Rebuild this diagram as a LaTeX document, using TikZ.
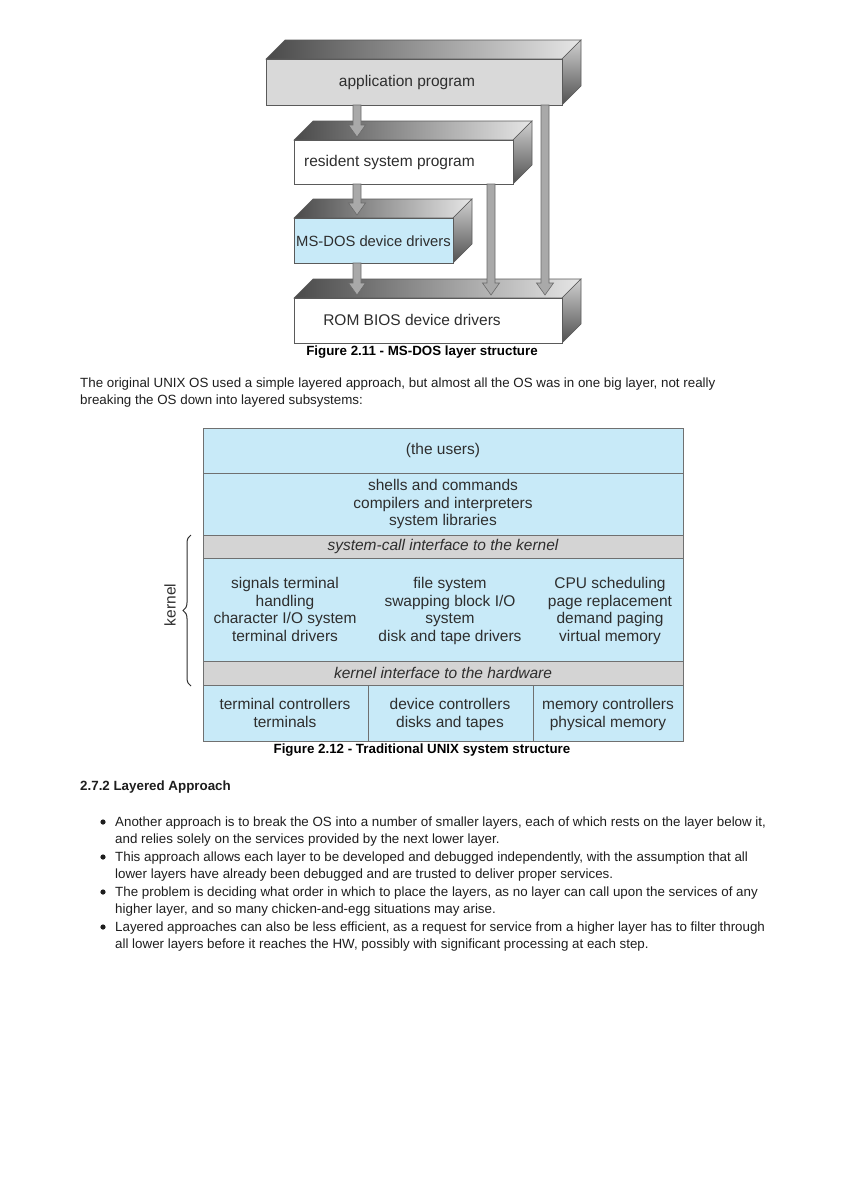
\documentclass[tikz,border=0pt]{standalone}
\usepackage{fontspec}
\setmainfont{Liberation Sans}
\usetikzlibrary{decorations.pathreplacing,calc}
\definecolor{topdark}{HTML}{4A4A4A}
\definecolor{toplight}{HTML}{E6E6E6}
\definecolor{sidelight}{HTML}{D0D0D0}
\definecolor{sidedark}{HTML}{505050}
\definecolor{edgec}{HTML}{5A5A5A}
\definecolor{appgray}{HTML}{D9D9D9}
\definecolor{ublue}{HTML}{C8EAF8}
\definecolor{ugray}{HTML}{D4D4D4}
\definecolor{linec}{HTML}{707070}
\definecolor{figtxt}{HTML}{2E2E2E}
\definecolor{arrfill}{HTML}{A9A9A9}
\definecolor{arredge}{HTML}{6A6A6A}
\definecolor{bodytxt}{HTML}{1E1E1E}
\newcommand\threedbox[6]{%
  \shade[left color=topdark, right color=toplight, draw=edgec, line width=0.6pt]
    (#2,#3) -- (#2+19,#3-19) -- (#4+19,#3-19) -- (#4,#3) -- cycle;
  \shade[top color=sidelight, bottom color=sidedark, draw=edgec, line width=0.6pt]
    (#4,#3) -- (#4+19,#3-19) -- (#4+19,#5-19) -- (#4,#5) -- cycle;
  \node[draw=edgec, line width=0.6pt, fill=#6, minimum width={#4-#2}, minimum height={#5-#3},
        anchor=north west, inner sep=0pt, outer sep=0pt] (#1) at (#2,#3) {};
}
\newcommand\fatarrow[2]{%
  \path let \p1=(#1), \p2=(#2) in
    [fill=arrfill, draw=arredge, line width=0.6pt]
    (\x1-4pt,\y1) -- (\x1-4pt,\y2+12pt) -- (\x1-8.5pt,\y2+12pt) -- (\x1,\y2)
    -- (\x1+8.5pt,\y2+12pt) -- (\x1+4pt,\y2+12pt) -- (\x1+4pt,\y1) -- cycle;
}
\begin{document}
\begin{tikzpicture}[x=1pt,y=-1pt,
  figtext/.style={text=figtxt, font=\fontsize{15.5}{17.4}\selectfont, inner sep=0pt, align=center},
  figcap/.style={text=black, font=\fontsize{13.35}{15}\selectfont\bfseries, inner sep=0pt},
  body/.style={text=bodytxt, font=\fontsize{13.35}{15}\selectfont, inner sep=0pt, anchor=base west},
  cell/.style={draw=linec, line width=0.7pt, fill=ublue, inner sep=0pt, outer sep=0pt, anchor=north west,
               text=figtxt, font=\fontsize{15.5}{17.4}\selectfont, align=center},
  graycell/.style={cell, fill=ugray, font=\fontsize{15.5}{17.4}\selectfont\itshape}
]
\useasboundingbox (0,0) rectangle (846,1197);
\fill[white] (0,0) rectangle (846,1197);

% ---------- Figure 2.11 ----------
\threedbox{rom}{294}{298}{562}{343}{white}
\threedbox{msdos}{294}{218}{453}{263}{ublue}
\threedbox{res}{294}{140}{513}{184}{white}
\threedbox{app}{266}{59}{562}{105}{appgray}

\node[figtext, anchor=center] (tapp) at (407,82) {application program};
\node[figtext, anchor=west] (tres) at (304,162) {resident system program};
\node[figtext, anchor=west, font=\fontsize{14.8}{17}\selectfont] (tms) at (296,241) {MS-DOS device drivers};
\node[figtext, anchor=center] (trom) at (412,320) {ROM BIOS device drivers};

\fatarrow{[xshift=91pt]app.south west}{[xshift=63pt,yshift=3pt]res.north west}
\fatarrow{[xshift=63pt]res.south west}{[xshift=63pt,yshift=3pt]msdos.north west}
\fatarrow{[xshift=63pt]msdos.south west}{[xshift=63pt,yshift=3pt]rom.north west}
\fatarrow{[xshift=197pt]res.south west}{[xshift=197pt,yshift=3pt]rom.north west}
\fatarrow{[xshift=279pt]app.south west}{[xshift=251pt,yshift=3pt]rom.north west}

\node[figcap] (cap1) at (422,352) {Figure 2.11 - MS-DOS layer structure};

% ---------- body text 1 ----------
\node[body] (p1) at (80,387) {The original UNIX OS used a simple layered approach, but almost all the OS was in one big layer, not really};
\node[body] (p2) at (80,404.5) {breaking the OS down into layered subsystems:};

% ---------- Figure 2.12 ----------
\node[cell, minimum width=480pt, minimum height=45pt] (users) at (203,428) {(the users)};
\node[cell, minimum width=480pt, minimum height=62pt] (shells) at (203,473)
  {shells and commands\\compilers and interpreters\\system libraries};
\node[graycell, minimum width=480pt, minimum height=23pt] (sysc) at (203,535) {system-call interface to the kernel};
\node[cell, minimum width=480pt, minimum height=103pt] (kern) at (203,558) {};
\node[graycell, minimum width=480pt, minimum height=24pt] (kif) at (203,661) {kernel interface to the hardware};
\node[cell, minimum width=165pt, minimum height=56pt] (hw1) at (203,685) {};
\node[cell, minimum width=165pt, minimum height=56pt] (hw2) at (368,685) {};
\node[cell, minimum width=150pt, minimum height=56pt] (hw3) at (533,685) {};
\node[figtext, anchor=base] (hwt1) at (285,727) {terminal controllers\\terminals};
\node[figtext, anchor=base] (hwt2) at (450,727) {device controllers\\disks and tapes};
\node[figtext, anchor=base] (hwt3) at (608,727) {memory controllers\\physical memory};

\node[figtext, anchor=base] (k1) at (285,641) {signals terminal\\handling\\character I/O system\\terminal drivers};
\node[figtext, anchor=base] (k2) at (450,641) {file system\\swapping block I/O\\system\\disk and tape drivers};
\node[figtext, anchor=base] (k3) at (610,641) {CPU scheduling\\page replacement\\demand paging\\virtual memory};

\coordinate (brb) at (191,686);
\coordinate (brt) at (191,535);
\draw[draw=figtxt, line width=1pt, decorate, decoration={brace, amplitude=8pt}] (brb) -- (brt);
\node[figtext, rotate=90] (klabel) at (170,605) {kernel};

\node[figcap] (cap2) at (422,750) {Figure 2.12 - Traditional UNIX system structure};

% ---------- body text 2 ----------
\node[body, font=\fontsize{13.35}{15}\selectfont\bfseries] (h272) at (80,790.5) {2.7.2 Layered Approach};

\foreach \yy/\nm in {822/b1, 857/b2, 892/b3, 927/b4}
  \fill[bodytxt] (103,\yy) circle (2.6pt) coordinate (\nm);

\node[body] (l1) at (115,826.5) {Another approach is to break the OS into a number of smaller layers, each of which rests on the layer below it,};
\node[body] (l2) at (115,843.5) {and relies solely on the services provided by the next lower layer.};
\node[body] (l3) at (115,861.5) {This approach allows each layer to be developed and debugged independently, with the assumption that all};
\node[body] (l4) at (115,878) {lower layers have already been debugged and are trusted to deliver proper services.};
\node[body] (l5) at (115,896.5) {The problem is deciding what order in which to place the layers, as no layer can call upon the services of any};
\node[body] (l6) at (115,913.5) {higher layer, and so many chicken-and-egg situations may arise.};
\node[body] (l7) at (115,931.5) {Layered approaches can also be less efficient, as a request for service from a higher layer has to filter through};
\node[body] (l8) at (115,948.5) {all lower layers before it reaches the HW, possibly with significant processing at each step.};
\end{tikzpicture}
\end{document}
